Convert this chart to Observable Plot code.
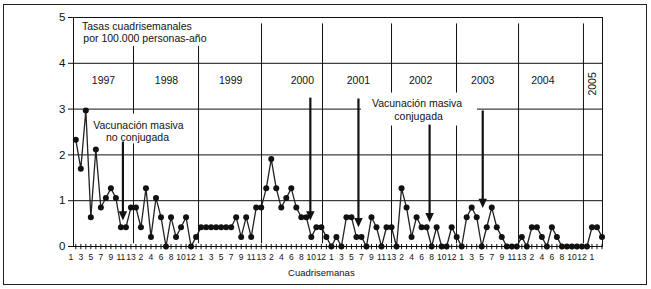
<!DOCTYPE html>
<html><head><meta charset="utf-8">
<script src="https://cdn.jsdelivr.net/npm/d3@7"></script>
<script src="https://cdn.jsdelivr.net/npm/@observablehq/plot@0.6"></script>
<style>
body{margin:0;background:#fff;}
#wrap{position:relative;width:651px;height:289px;overflow:hidden;}
#border{position:absolute;left:3px;top:4px;width:644px;height:281px;box-sizing:border-box;border:1.5px solid #222;}
#chart{position:absolute;left:0;top:0;}
</style></head><body>
<div id="wrap"><div id="border"></div><div id="chart"></div></div>
<script>
// Four-weekly rates per 100,000 person-years (13 four-week periods per year)
const years = [1997, 1998, 1999, 2000, 2001, 2002, 2003, 2004, 2005];
const firstPeriod = [2, 1, 1, 1, 1, 1, 1, 1, 1];
const r1997 = [2.33, 1.70, 2.97, 0.64, 2.12, 0.85, 1.06, 1.27, 1.06, 0.42, 0.42, 0.85];
const r1998 = [0.85, 0.42, 1.27, 0.21, 1.06, 0.64, 0, 0.64, 0.21, 0.42, 0.64, 0, 0.21];
const r1999 = [0.42, 0.42, 0.42, 0.42, 0.42, 0.42, 0.42, 0.64, 0.21, 0.64, 0.21, 0.85, 0.85];
const r2000 = [1.27, 1.91, 1.27, 0.85, 1.06, 1.27, 0.85, 0.64, 0.64, 0.21, 0.42, 0.42, 0.21];
const r2001 = [0, 0.21, 0, 0.64, 0.64, 0.21, 0.21, 0, 0.64, 0.42, 0, 0.42, 0.42];
const r2002 = [0, 1.27, 0.85, 0.21, 0.64, 0.42, 0.42, 0, 0.42, 0, 0, 0.42, 0.21];
const r2003 = [0, 0.64, 0.85, 0.64, 0, 0.42, 0.85, 0.42, 0.21, 0, 0, 0, 0.21];
const r2004 = [0, 0.42, 0.42, 0.21, 0, 0.42, 0.21, 0, 0, 0, 0, 0, 0];
const r2005 = [0.42, 0.42, 0.21];
const series = [r1997, r1998, r1999, r2000, r2001, r2002, r2003, r2004, r2005];

const yTicks = [0, 1, 2, 3, 4, 5];
const titleLines = ["Tasas cuadrisemanales", "por 100.000 personas-año"];
const noConjLines = ["Vacunación masiva", "no conjugada"];
const conjLines = ["Vacunación masiva", "conjugada"];
const xTitle = "Cuadrisemanas";

// build table: index = (year-1997)*13 + period-1
const data = [];
years.forEach((yr, k) => {
  series[k].forEach((v, j) => {
    const p = firstPeriod[k] + j;
    data.push({i: k * 13 + p - 1, v});
  });
});
const lastIndex = d3.max(data, d => d.i);

// tick labels: every other period (up to 2005 period 1), all periods ticked
const tickIdx = d3.range(1, lastIndex + 1);
const labelIdx = d3.range(0, 105, 2).map(i => ({i, t: String(i % 13 + 1)}));

// layout (annotation geometry, in x-index / y-value units)
const yearLineAt = [12.51, 25.49, 38.06, 50.23, 64.0, 76.97, 89.35, 102.3];
const yearLabelAt = [6.53, 19.1, 31.9, 46.2, 57.4, 69.8, 82.2, 94.2, 104.1];
const masks = [
  {x1: 1.14, x2: 28.28, y1: 4.37, y2: 4.97},
  {x1: 3.93, x2: 23.49, y1: 2.24, y2: 2.89},
  {x1: 58.0, x2: 81.16, y1: 2.63, y2: 3.35}
];
const arrows = [
  {x: 10.4, top: 2.28, tip: 0.57},
  {x: 47.8, top: 3.24, tip: 0.57},
  {x: 57.4, top: 3.22, tip: 0.42},
  {x: 71.6, top: 2.65, tip: 0.53},
  {x: 82.2, top: 2.96, tip: 0.84}
];
const arrowHead = {
  draw(ctx, size) {
    const r = Math.sqrt(size / Math.PI);
    ctx.moveTo(0, 0);
    ctx.lineTo(-r * 1.25, -r * 2.7);
    ctx.lineTo(r * 1.25, -r * 2.7);
    ctx.closePath();
  }
};

const ink = "#111";
const yearLabels = years.map((y, k) => ({x: yearLabelAt[k], t: String(y), rot: y === 2005 ? -90 : 0}));

const chart = Plot.plot({
  width: 651, height: 289,
  marginLeft: 73, marginRight: 49, marginTop: 17, marginBottom: 43,
  style: {fontFamily: "'Liberation Sans', Arial, Helvetica, sans-serif", fontSize: "11.5px", background: "transparent", color: ink},
  x: {domain: [0.54, 106.1], axis: null},
  y: {domain: [0, 5], ticks: yTicks, tickFormat: d3.format("d"), tickSize: 5, tickPadding: 3, label: null},
  marks: [
    Plot.ruleY([1, 2, 3, 4], {stroke: ink, strokeWidth: 1}),
    Plot.ruleX(yearLineAt, {y1: 0.06, y2: 4.86, stroke: ink, strokeWidth: 1}),
    Plot.rect(masks, {x1: "x1", x2: "x2", y1: "y1", y2: "y2", fill: "white"}),
    Plot.frame({stroke: ink, strokeWidth: 1}),
    Plot.ruleX(tickIdx, {y1: -0.07, y2: 0.045, stroke: ink, strokeWidth: 1}),
    Plot.text(labelIdx, {x: "i", y: 0, text: "t", dy: 10.5, fontSize: 8.5}),
    Plot.text([xTitle], {x: 50.0, y: 0, dy: 26.5, fontSize: 9.5}),
    Plot.text(yearLabels.filter(d => d.rot === 0), {x: "x", y: 3.63, text: "t", fontSize: 10.5}),
    Plot.text(yearLabels.filter(d => d.rot !== 0), {x: "x", y: 3.55, text: "t", fontSize: 10.5, rotate: -90}),
    Plot.text([titleLines[0]], {x: 2.24, y: 4.80, textAnchor: "start", fontSize: 10.5}),
    Plot.text([titleLines[1]], {x: 2.5, y: 4.54, textAnchor: "start", fontSize: 10.5}),
    Plot.text([noConjLines[0]], {x: 13.5, y: 2.63, fontSize: 10.5}),
    Plot.text([noConjLines[1]], {x: 13.3, y: 2.37, fontSize: 10.5}),
    Plot.text([conjLines[0]], {x: 69.1, y: 3.13, fontSize: 10.5}),
    Plot.text([conjLines[1]], {x: 69.4, y: 2.83, fontSize: 10.5}),
    Plot.ruleX(arrows, {x: "x", y1: d => d.tip + 0.12, y2: "top", stroke: ink, strokeWidth: 2.2}),
    Plot.dot(arrows, {x: "x", y: "tip", symbol: arrowHead, r: 3.4, fill: ink, stroke: "none"}),
    Plot.line(data, {x: "i", y: "v", stroke: "#222", strokeWidth: 1.3}),
    Plot.dot(data, {x: "i", y: "v", r: 3, fill: ink, stroke: "none"})
  ]
});
document.getElementById("chart").append(chart);
</script>
</body></html>
